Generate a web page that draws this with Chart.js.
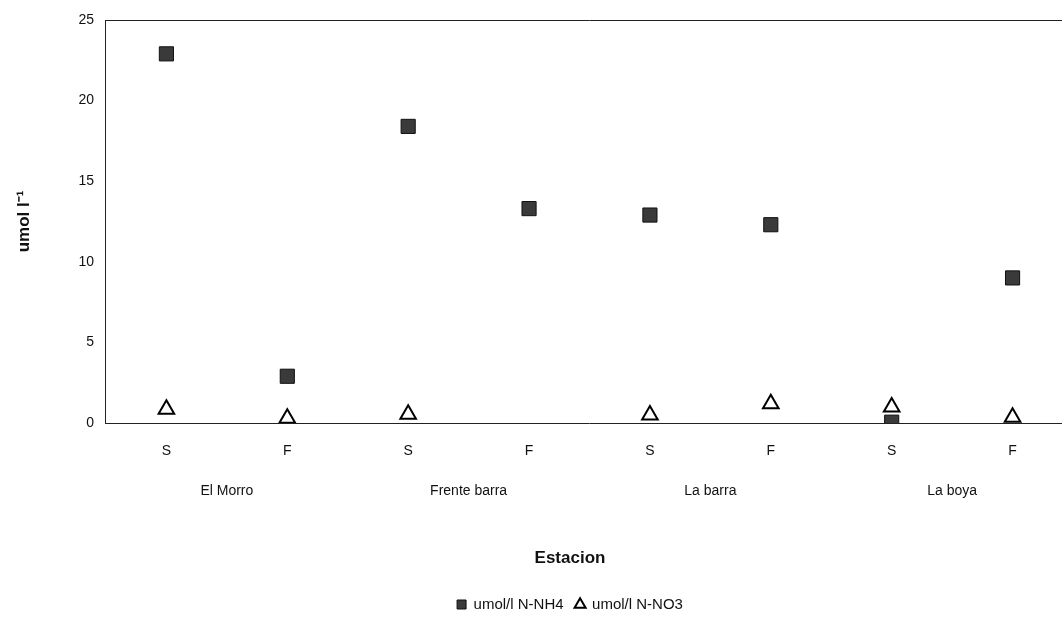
<!DOCTYPE html>
<html>
<head>
<meta charset="utf-8">
<script src="https://cdn.jsdelivr.net/npm/chart.js@4/dist/chart.umd.min.js"></script>
<style>
  html, body { margin: 0; padding: 0; background: #fff; overflow: hidden; }
  #wrap { width: 1140px; height: 627px; }
</style>
</head>
<body>
<div id="wrap"><canvas id="chart"></canvas></div>
<script>
const samples = ['S', 'F', 'S', 'F', 'S', 'F', 'S', 'F'];
const stations = ['El Morro', 'Frente barra', 'La barra', 'La boya'];
const nh4 = [22.9, 2.9, 18.4, 13.3, 12.9, 12.3, 0.05, 9.0];
const no3 = [0.85, 0.3, 0.55, null, 0.5, 1.2, 1.0, 0.35];
const yTicks = [0, 5, 10, 15, 20, 25];

Chart.defaults.font.family = "'Liberation Sans', Arial, sans-serif";
Chart.defaults.color = '#111';

// top line of the plot box
const boxPlugin = {
  id: 'box',
  afterDraw(chart) {
    const { ctx, chartArea } = chart;
    ctx.save();
    ctx.strokeStyle = '#222';
    ctx.lineWidth = 1;
    ctx.beginPath();
    ctx.moveTo(chartArea.left, chartArea.top + 0.5);
    ctx.lineTo(chartArea.right, chartArea.top + 0.5);
    ctx.stroke();
    ctx.restore();
  },
};

new Chart(document.getElementById('chart'), {
  type: 'line',
  data: {
    labels: samples,
    datasets: [
      {
        label: 'umol/l N-NH4',
        data: nh4,
        showLine: false,
        pointStyle: 'rect',
        pointRadius: 10,
        pointBackgroundColor: '#3a3a3a',
        pointBorderColor: '#111',
        pointBorderWidth: 1,
        backgroundColor: '#3a3a3a',
        borderColor: '#111',
      },
      {
        label: 'umol/l N-NO3',
        data: no3,
        showLine: false,
        pointStyle: 'triangle',
        pointRadius: 9,
        pointBackgroundColor: '#fff',
        pointBorderColor: '#000',
        pointBorderWidth: 2,
        backgroundColor: '#fff',
        borderColor: '#000',
      },
    ],
  },
  options: {
    responsive: true,
    maintainAspectRatio: false,
    animation: false,
    layout: { padding: { top: 20, right: 0, left: 0, bottom: 5 } },
    scales: {
      x: {
        type: 'category',
        offset: true,
        grid: { display: false, drawTicks: false },
        border: { display: true, color: '#222', width: 1 },
        ticks: { padding: 20, font: { size: 14 } },
      },
      x2: {
        type: 'category',
        labels: stations,
        position: 'bottom',
        offset: true,
        grid: { display: false, drawTicks: false },
        border: { display: false },
        ticks: { padding: 3, font: { size: 14 } },
      },
      y: {
        min: 0,
        max: 25,
        afterBuildTicks: (axis) => {
          axis.ticks = yTicks.map((v) => ({ value: v }));
        },
        grid: { display: false, drawTicks: true, tickLength: 6, tickColor: '#222' },
        border: { display: true, color: '#222', width: 1 },
        ticks: { padding: 6, font: { size: 14 } },
        title: {
          display: true,
          text: 'umol l⁻¹',
          font: { size: 17, weight: 'bold' },
          padding: { top: 14, bottom: 38 },
        },
      },
      // empty axis on the right, keeps the plot ending where the picture is cut
      yRight: {
        position: 'right',
        display: true,
        grid: { display: false, drawTicks: false },
        border: { display: false },
        ticks: { display: false },
        afterFit: (axis) => {
          axis.width = 67;
        },
      },
    },
    plugins: {
      title: {
        display: true,
        position: 'bottom',
        text: 'Estacion',
        font: { size: 17, weight: 'bold' },
        color: '#111',
        padding: { top: 46, bottom: 16 },
      },
      legend: {
        position: 'bottom',
        weight: 3000,
        labels: {
          usePointStyle: true,
          boxWidth: 9,
          boxHeight: 9,
          padding: 12,
          font: { size: 15 },
          color: '#111',
        },
      },
      tooltip: { enabled: false },
    },
  },
  plugins: [boxPlugin],
});
</script>
</body>
</html>
